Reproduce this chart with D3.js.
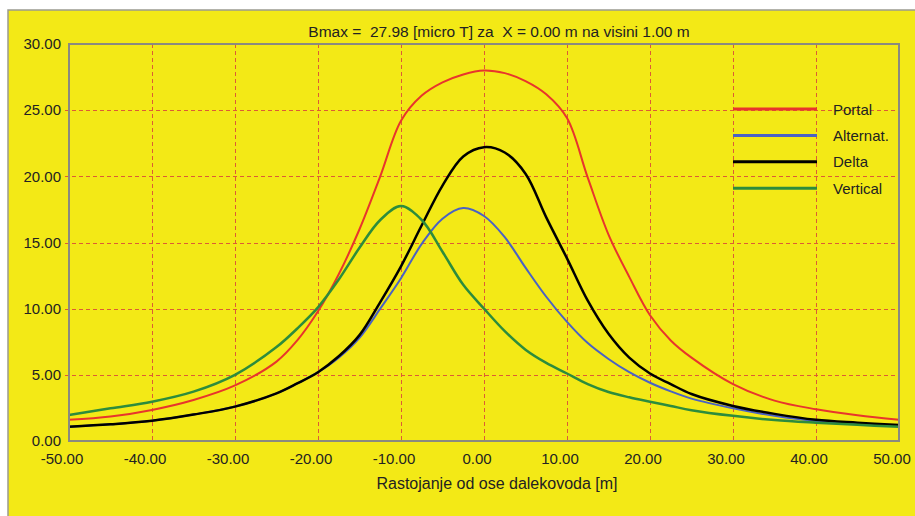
<!DOCTYPE html>
<meta charset="utf-8">
<head>
<style>
  body { margin: 0; background: #ffffff; }
  svg { display: block; font-family: "Liberation Sans", Arial, sans-serif; }
  .grid line { stroke: #dd5c34; stroke-width: 1px; stroke-dasharray: 4,3; shape-rendering: crispEdges; }
  .tick text { fill: #222; }
</style>
</head>
<body>
<svg id="chart" width="915" height="516"></svg>
<script src="https://d3js.org/d3.v7.min.js"></script>
<script>
// x positions along the line (m)
var xs = [-50,-45,-40,-35,-30,-25,-22.5,-20,-17.5,-15,-12.5,-10,-7.5,-5,-2.5,0,2.5,5,7.5,10,12.5,15,17.5,20,22.5,25,30,35,40,45,50];

// B values (micro T)
var portal   = [1.6,1.85,2.35,3.1,4.2,6.0,7.6,9.8,12.6,16.0,20.0,24.2,26.1,27.1,27.7,28.0,27.8,27.2,26.2,24.4,19.9,15.6,12.4,9.5,7.6,6.3,4.3,3.05,2.4,1.95,1.6];
var alternat = [1.08,1.26,1.53,2.0,2.6,3.6,4.35,5.2,6.3,7.8,10.0,12.3,14.9,16.8,17.6,17.0,15.4,13.1,10.9,9.0,7.4,6.2,5.2,4.4,3.75,3.2,2.47,1.9,1.5,1.3,1.15];
var delta    = [1.08,1.26,1.53,2.0,2.6,3.6,4.35,5.2,6.4,8.0,10.5,13.2,16.3,19.3,21.5,22.2,21.8,20.2,16.9,13.8,10.6,8.1,6.3,5.1,4.3,3.55,2.65,2.05,1.6,1.38,1.2];
var vertical = [1.96,2.47,2.97,3.73,5.0,7.1,8.5,10.1,12.2,14.6,16.7,17.75,16.7,14.3,11.8,10.0,8.3,6.9,5.9,5.1,4.3,3.7,3.3,2.97,2.65,2.33,1.9,1.58,1.38,1.22,1.08];

var seriesNames  = ["Portal","Alternat.","Delta","Vertical"];
var seriesColors = ["#e8352c","#4a62c4","#000000","#2d8c3c"];
var seriesWidths = [2, 2, 2.5, 2.5];

var xTicks = [-50,-40,-30,-20,-10,0,10,20,30,40,50];
var yTicks = [0,5,10,15,20,25,30];

var title = "Bmax =  27.98 [micro T] za  X = 0.00 m na visini 1.00 m";
var xLabel = "Rastojanje od ose dalekovoda [m]";

var svg = d3.select("#chart");
var margin = {top: 44, right: 16, bottom: 75, left: 69};
var width = 915 - margin.left - margin.right,
    height = 516 - margin.top - margin.bottom;

// panel background + outer border
svg.append("rect").attr("x", 8).attr("y", 10).attr("width", 915).attr("height", 516)
  .attr("fill", "#f3e916").attr("stroke", "#9a9a90").attr("stroke-width", 1.5);

svg.append("text").attr("x", 499).attr("y", 37).attr("text-anchor", "middle")
  .style("white-space", "pre")
  .attr("font-size", 15.5).attr("fill", "#222").text(title);

var x = d3.scaleLinear().domain([-50, 50]).range([0, width]);
var y = d3.scaleLinear().domain([0, 30]).range([height, 0]);

var g = svg.append("g").attr("transform", "translate(" + margin.left + "," + margin.top + ")");

// grid
var grid = g.append("g").attr("class", "grid");
grid.selectAll(".vx").data(xTicks.slice(1, -1)).enter().append("line")
  .attr("x1", function(d) { return Math.round(x(d)) + 0.5; })
  .attr("x2", function(d) { return Math.round(x(d)) + 0.5; })
  .attr("y1", 0).attr("y2", height);
grid.selectAll(".hy").data(yTicks.slice(1, -1)).enter().append("line")
  .attr("x1", -4).attr("x2", width)
  .attr("y1", function(d) { return Math.round(y(d)) + 0.5; })
  .attr("y2", function(d) { return Math.round(y(d)) + 0.5; });

var fmt = function(d) { return d.toFixed(2); };

// axes (labels only, frame drawn separately)
var xAxis = g.append("g").attr("transform", "translate(0," + height + ")")
  .call(d3.axisBottom(x).tickValues(xTicks).tickFormat(fmt).tickSize(0).tickPadding(12));
xAxis.select(".domain").remove();
xAxis.selectAll("text").attr("font-size", 15).attr("font-family", "Liberation Sans, Arial, sans-serif")
  .attr("dx", -7.5);

var yAxis = g.append("g")
  .call(d3.axisLeft(y).tickValues(yTicks).tickFormat(fmt).tickSize(0).tickPadding(8));
yAxis.select(".domain").remove();
yAxis.selectAll("text").attr("font-size", 15).attr("font-family", "Liberation Sans, Arial, sans-serif");

// curves
var line = d3.line()
  .x(function(d) { return x(d[0]); })
  .y(function(d) { return y(d[1]); })
  .curve(d3.curveCatmullRom.alpha(0.5));

var allSeries = [portal, alternat, delta, vertical];
allSeries.forEach(function(vals, i) {
  g.append("path")
    .datum(xs.map(function(v, j) { return [v, vals[j]]; }))
    .attr("fill", "none")
    .attr("stroke", seriesColors[i])
    .attr("stroke-width", seriesWidths[i])
    .attr("d", line);
});

// frame
g.append("rect").attr("x", 0).attr("y", 0).attr("width", width).attr("height", height)
  .attr("fill", "none").attr("stroke", "#8a8a80").attr("stroke-width", 2);

// legend
var legend = svg.append("g");
seriesNames.forEach(function(name, i) {
  var ly = 109 + i * 26.4;
  legend.append("line").attr("x1", 733).attr("x2", 817).attr("y1", ly).attr("y2", ly)
    .attr("stroke", seriesColors[i]).attr("stroke-width", 3);
  legend.append("text").attr("x", 833).attr("y", ly + 5.5).attr("font-size", 15)
    .attr("fill", "#222").text(name);
});

svg.append("text").attr("x", 497).attr("y", 489).attr("text-anchor", "middle")
  .attr("font-size", 16).attr("fill", "#222").text(xLabel);
</script>
</body>
